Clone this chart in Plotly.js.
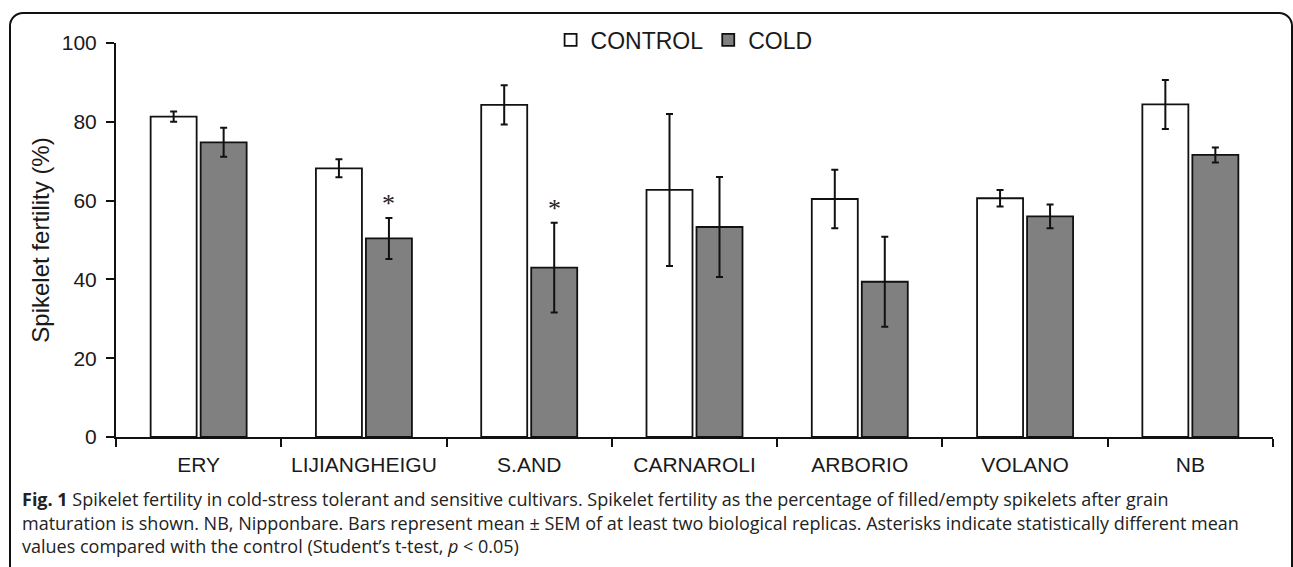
<!DOCTYPE html>
<html>
<head>
<meta charset="utf-8">
<script src="https://cdn.plot.ly/plotly-3.0.1.min.js"></script>
<style>
  html, body { margin: 0; padding: 0; background: #fff; overflow: hidden; }
  #wrap { position: relative; width: 1293px; height: 567px; }
  #chart { position: absolute; left: 0; top: 0; width: 1293px; height: 567px; }
  #frame { position: absolute; left: 9px; top: 12px; width: 1284px; height: 620px;
           box-sizing: border-box; border: 2px solid #111; border-radius: 14px;
           pointer-events: none; z-index: 10; }
</style>
</head>
<body>
<div id="wrap">
  <div id="chart"></div>
  <div id="frame"></div>
</div>
<script>
const categories = ["ERY", "LIJIANGHEIGU", "S.AND", "CARNAROLI", "ARBORIO", "VOLANO", "NB"];
const controlMean = [81.3, 68.2, 84.3, 62.7, 60.4, 60.6, 84.4];
const controlSem  = [1.3, 2.3, 5.0, 19.3, 7.4, 2.1, 6.2];
const coldMean    = [74.8, 50.4, 43.0, 53.3, 39.4, 56.0, 71.6];
const coldSem     = [3.7, 5.2, 11.4, 12.7, 11.4, 3.0, 1.9];
const coldSignificant = [false, true, true, false, false, false, false];

const captionLines = [
  "<b>Fig. 1</b> Spikelet fertility in cold-stress tolerant and sensitive cultivars. Spikelet fertility as the percentage of filled/empty spikelets after grain",
  "maturation is shown. NB, Nipponbare. Bars represent mean ± SEM of at least two biological replicas. Asterisks indicate statistically different mean",
  "values compared with the control (Student’s t-test, <i>p</i> &lt; 0.05)"
];

const axisFont = { family: "Liberation Sans, Arial, sans-serif", size: 21, color: "#1a1a1a" };

const traces = [
  {
    type: "bar", name: "CONTROL", x: categories, y: controlMean,
    marker: { color: "#ffffff", line: { color: "#111", width: 1.8 } },
    error_y: { type: "data", array: controlSem, visible: true, color: "#111", thickness: 2, width: 3.5 }
  },
  {
    type: "bar", name: "COLD", x: categories, y: coldMean,
    marker: { color: "#808080", line: { color: "#111", width: 1.8 } },
    error_y: { type: "data", array: coldSem, visible: true, color: "#111", thickness: 2, width: 3.5 }
  }
];

const annotations = [];
categories.forEach((c, i) => {
  if (coldSignificant[i]) {
    annotations.push({
      x: c, y: coldMean[i] + coldSem[i], xref: "x", yref: "y",
      xshift: 25, yshift: -2, yanchor: "bottom", showarrow: false,
      text: "*", font: { family: "Liberation Serif, Times New Roman, serif", size: 26, color: "#222" }
    });
  }
});
const plotTop = 43, plotBottom = 437, plotH = plotBottom - plotTop;
const plotLeft = 116, plotW = 1273 - 116;
const captionY = [499, 522.5, 546];
captionLines.forEach((t, i) => {
  annotations.push({
    xref: "paper", yref: "paper",
    x: (20 - plotLeft) / plotW, y: (plotBottom - captionY[i]) / plotH,
    xanchor: "left", yanchor: "middle", align: "left", showarrow: false,
    text: t, font: { family: "Open Sans, sans-serif", size: 18, color: "#222" }
  });
});

const layout = {
  width: 1293, height: 567,
  margin: { l: 116, r: 20, t: 43, b: 130, pad: 0 },
  paper_bgcolor: "#ffffff", plot_bgcolor: "#ffffff",
  barmode: "group", bargap: 0.395, bargroupgap: 0.08,
  showlegend: true,
  legend: {
    orientation: "h", x: 0.491, xanchor: "center", y: 1.008, yanchor: "middle",
    font: { family: "Liberation Sans, Arial, sans-serif", size: 23, color: "#1a1a1a" },
    itemwidth: 30, tracegroupgap: 0, bgcolor: "rgba(0,0,0,0)"
  },
  xaxis: {
    type: "category", showline: true, linecolor: "#111", linewidth: 2,
    ticks: "outside", tickson: "boundaries", ticklen: 8, tickwidth: 2, tickcolor: "#111",
    ticklabelstandoff: 8,
    tickfont: axisFont, showgrid: false, zeroline: false, fixedrange: true
  },
  yaxis: {
    range: [0, 100], dtick: 20, tick0: 0, showline: true, linecolor: "#111", linewidth: 2,
    ticks: "outside", ticklen: 8, tickwidth: 2, tickcolor: "#111",
    ticklabelstandoff: 5,
    tickfont: axisFont, showgrid: false, zeroline: false, fixedrange: true,
    title: { text: "Spikelet fertility (%)", font: { family: "Liberation Sans, Arial, sans-serif", size: 24, color: "#1a1a1a" }, standoff: 5 }
  },
  annotations: annotations
};

Plotly.newPlot("chart", traces, layout, { displayModeBar: false, staticPlot: true });
</script>
</body>
</html>
